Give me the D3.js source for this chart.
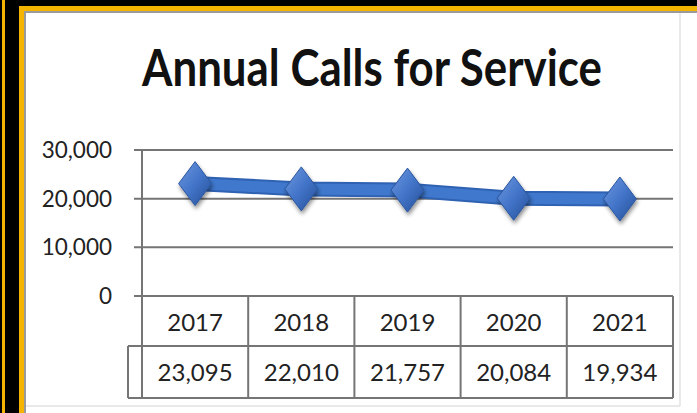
<!DOCTYPE html>
<html>
<head>
<meta charset="utf-8">
<script src="https://cdn.jsdelivr.net/npm/d3@7"></script>
<style>
  html, body { margin: 0; padding: 0; background: #000; }
  svg { display: block; }
</style>
</head>
<body>
<svg id="chart" width="697" height="413"></svg>
<script>
const title = "Annual Calls for Service";
const years = ["2017", "2018", "2019", "2020", "2021"];
const calls = [23095, 22010, 21757, 20084, 19934];
const yTicks = [0, 10000, 20000, 30000];

const W = 697, H = 413;
const svg = d3.select("#chart");
const defs = svg.append("defs");

// frame
svg.append("rect").attr("x", 0).attr("y", 0).attr("width", W).attr("height", H).attr("fill", "#000");
svg.append("rect").attr("x", 2).attr("y", 0).attr("width", 3).attr("height", H).attr("fill", "#f5b400");
svg.append("rect").attr("x", 19).attr("y", 6).attr("width", W).attr("height", H).attr("fill", "#f5b400");
svg.append("rect").attr("x", 24).attr("y", 11).attr("width", W).attr("height", H).attr("fill", "#9a9a9a");
svg.append("rect").attr("x", 26).attr("y", 13).attr("width", W).attr("height", H).attr("fill", "#fff");
// faint chart-area border
svg.append("line").attr("x1", 680).attr("x2", 680).attr("y1", 13).attr("y2", 406)
  .attr("stroke", "#e2e2e2").attr("stroke-width", 1.5);
svg.append("line").attr("x1", 26).attr("x2", 680).attr("y1", 406).attr("y2", 406)
  .attr("stroke", "#e2e2e2").attr("stroke-width", 1.5);

// title
svg.append("text")
  .attr("x", 372).attr("y", 86)
  .attr("text-anchor", "middle")
  .attr("font-family", "Lato, 'Open Sans', sans-serif")
  .attr("font-weight", 700)
  .attr("font-size", 52)
  .attr("textLength", 460)
  .attr("lengthAdjust", "spacingAndGlyphs")
  .attr("fill", "#111")
  .text(title);

const x = d3.scaleBand().domain(years).range([142, 673]).padding(0);
const y = d3.scaleLinear().domain([0, 30000]).range([296, 150]);

const gridColor = "#757575";

// gridlines
svg.append("g").selectAll("line").data(yTicks).join("line")
  .attr("x1", 134).attr("x2", 673)
  .attr("y1", d => y(d)).attr("y2", d => y(d))
  .attr("stroke", gridColor).attr("stroke-width", 2);

// y axis labels
svg.append("g").selectAll("text").data(yTicks).join("text")
  .attr("x", 112).attr("y", d => y(d) + 8)
  .attr("text-anchor", "end")
  .attr("font-family", "Lato, 'Open Sans', sans-serif")
  .attr("font-size", 22.5)
  .attr("fill", "#222")
  .text(d => d3.format(",")(d));

// y axis line (extends through first table row)
const rowTop = y(0), rowMid = 346, rowBot = 398;
svg.append("line").attr("x1", 142).attr("x2", 142).attr("y1", y(30000)).attr("y2", rowBot)
  .attr("stroke", gridColor).attr("stroke-width", 2);

// data table
const tg = svg.append("g");
const bounds = years.map(d => x(d)).concat([x.range()[1]]);
tg.selectAll("line.v").data(bounds).join("line").attr("class", "v")
  .attr("x1", d => d).attr("x2", d => d).attr("y1", rowTop).attr("y2", rowBot)
  .attr("stroke", gridColor).attr("stroke-width", 2);
tg.append("line").attr("x1", 142).attr("x2", 673).attr("y1", rowMid).attr("y2", rowMid)
  .attr("stroke", gridColor).attr("stroke-width", 2);
tg.append("line").attr("x1", 128).attr("x2", 142).attr("y1", rowMid).attr("y2", rowMid)
  .attr("stroke", gridColor).attr("stroke-width", 2);
tg.append("line").attr("x1", 128).attr("x2", 673).attr("y1", rowBot).attr("y2", rowBot)
  .attr("stroke", gridColor).attr("stroke-width", 2);
tg.append("line").attr("x1", 128).attr("x2", 128).attr("y1", rowMid).attr("y2", rowBot)
  .attr("stroke", gridColor).attr("stroke-width", 2);

tg.selectAll("text.cat").data(years).join("text").attr("class", "cat")
  .attr("x", d => x(d) + x.bandwidth() / 2).attr("y", 331)
  .attr("text-anchor", "middle")
  .attr("font-family", "Lato, 'Open Sans', sans-serif")
  .attr("font-size", 24)
  .attr("fill", "#222")
  .text(d => d);
tg.selectAll("text.val").data(calls).join("text").attr("class", "val")
  .attr("x", (d, i) => x(years[i]) + x.bandwidth() / 2).attr("y", 381)
  .attr("text-anchor", "middle")
  .attr("font-family", "Lato, 'Open Sans', sans-serif")
  .attr("font-size", 24)
  .attr("fill", "#222")
  .text(d => d3.format(",")(d));

// line series
const pts = years.map((d, i) => [x(d) + x.bandwidth() / 2, y(calls[i])]);
const lineGen = d3.line();
svg.append("path").attr("d", lineGen(pts))
  .attr("fill", "none").attr("stroke", "#2f62b2").attr("stroke-width", 15)
  .attr("stroke-linejoin", "round");
svg.append("path").attr("d", lineGen(pts))
  .attr("fill", "none").attr("stroke", "#3f78cd").attr("stroke-width", 11)
  .attr("stroke-linejoin", "round");

// marker gradient + shadow
const grad = defs.append("linearGradient").attr("id", "dg")
  .attr("x1", "0%").attr("y1", "0%").attr("x2", "100%").attr("y2", "100%");
grad.append("stop").attr("offset", "0%").attr("stop-color", "#6f98e0");
grad.append("stop").attr("offset", "50%").attr("stop-color", "#4274c8");
grad.append("stop").attr("offset", "100%").attr("stop-color", "#244f96");
const f = defs.append("filter").attr("id", "sh").attr("x", "-50%").attr("y", "-50%").attr("width", "200%").attr("height", "200%");
f.append("feGaussianBlur").attr("in", "SourceAlpha").attr("stdDeviation", 2).attr("result", "b");
f.append("feOffset").attr("in", "b").attr("dx", 1).attr("dy", 3).attr("result", "o");
f.append("feComponentTransfer").attr("in", "o").attr("result", "oa")
  .append("feFuncA").attr("type", "linear").attr("slope", 0.45);
const fm = f.append("feMerge");
fm.append("feMergeNode").attr("in", "oa");
fm.append("feMergeNode").attr("in", "SourceGraphic");

svg.append("g").selectAll("path").data(pts).join("path")
  .attr("transform", d => `translate(${d[0]},${d[1]})`)
  .attr("d", "M0,-22 L16.5,0 L0,22 L-16.5,0 Z")
  .attr("fill", "url(#dg)")
  .attr("stroke", "#2b579f").attr("stroke-width", 1)
  .attr("filter", "url(#sh)");
</script>
</body>
</html>
